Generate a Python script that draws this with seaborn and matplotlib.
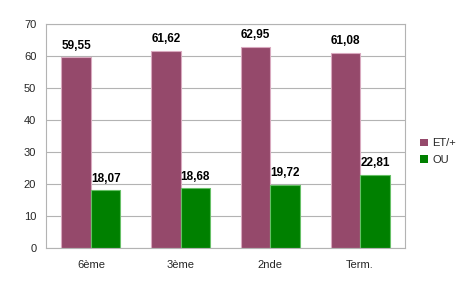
import matplotlib
matplotlib.use("Agg")
import matplotlib.pyplot as plt
import seaborn as sns
import pandas as pd

categories = ["6ème", "3ème", "2nde", "Term."]
series_names = ["ET/+", "OU"]
et_values = [59.55, 61.62, 62.95, 61.08]
ou_values = [18.07, 18.68, 19.72, 22.81]
y_ticks = [0, 10, 20, 30, 40, 50, 60, 70]

df = pd.DataFrame({
    "cat": categories * 2,
    "serie": [series_names[0]] * 4 + [series_names[1]] * 4,
    "val": et_values + ou_values,
})

sns.set_theme(style="white")
plt.rcParams['font.family'] = ['Liberation Sans', 'DejaVu Sans']

fig = plt.figure(figsize=(4.72, 3.05), dpi=100)
ax = fig.add_axes([46/472, 1-248/305, (405-46)/472, (248-24)/305])

palette = {"ET/+": "#95496b", "OU": "#008000"}
sns.barplot(data=df, x="cat", y="val", hue="serie", palette=palette,
            width=0.66, ax=ax, saturation=1, legend=True)

for cont, ec in zip(ax.containers, ["#d9a9bf", "#66c066"]):
    for p in cont:
        p.set_edgecolor(ec)
        p.set_linewidth(0.8)
    ax.bar_label(cont, labels=[f"{v:.2f}".replace(".", ",") for v in cont.datavalues],
                 padding=4, fontsize=8.5, fontweight="bold", color="black")

ax.set_ylim(0, 70)
ax.set_xlim(-0.5, 3.5)
ax.set_yticks(y_ticks)
ax.set_yticklabels([str(t) for t in y_ticks], fontsize=8)
ax.set_xlabel("")
ax.set_ylabel("")
ax.yaxis.grid(True, color="#b3b3b3", linewidth=0.8)
ax.set_axisbelow(True)
for s in ax.spines.values():
    s.set_color("#b3b3b3")
    s.set_linewidth(0.8)

ax.set_xticks([0, 1, 2, 3])
ax.set_xticklabels(categories, fontsize=8)
ax.tick_params(axis="x", length=0, pad=9)
ax.set_xticks([-0.5, 0.5, 1.5, 2.5, 3.5], minor=True)
ax.tick_params(axis="x", which="minor", length=6, color="#b3b3b3", width=0.8, direction="out")
ax.tick_params(axis="y", length=5, color="#b3b3b3", width=0.8, direction="out", pad=2)

leg = ax.legend(loc="center left", bbox_to_anchor=(1.015, 0.43), frameon=False,
                fontsize=8, handlelength=0.7, handleheight=0.7, handletextpad=0.4,
                labelspacing=0.6)
for h in leg.legend_handles:
    h.set_edgecolor("none")

fig.savefig("out.png", dpi=100)
